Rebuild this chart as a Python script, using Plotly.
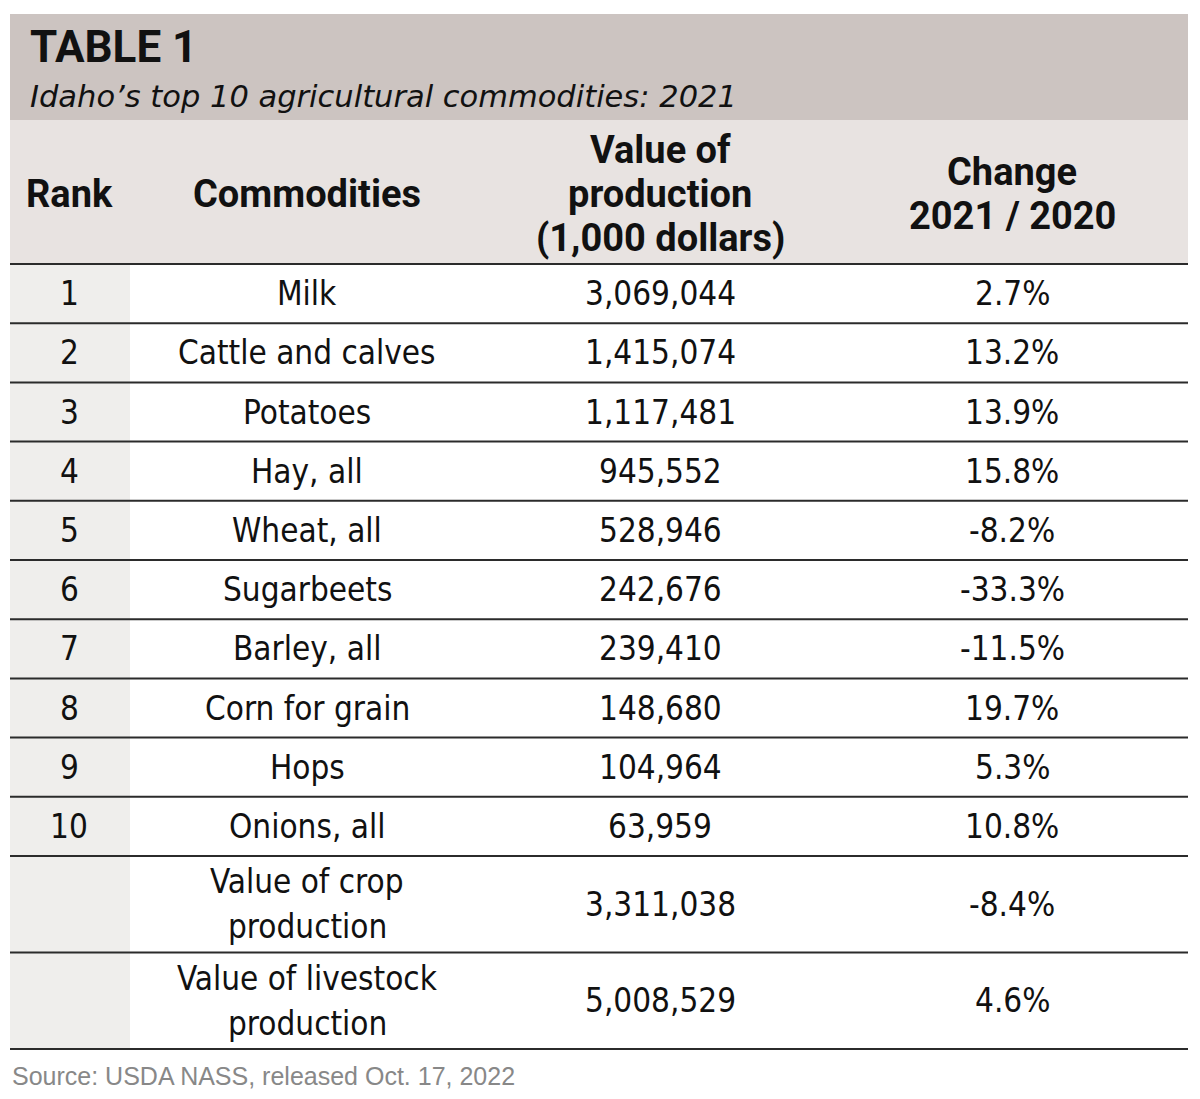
import plotly.graph_objects as go

ranks = ["1", "2", "3", "4", "5", "6", "7", "8", "9", "10", "", ""]
commodities = ["Milk", "Cattle and calves", "Potatoes", "Hay, all", "Wheat, all",
               "Sugarbeets", "Barley, all", "Corn for grain", "Hops", "Onions, all",
               "Value of crop|production", "Value of livestock|production"]
values = [3069044, 1415074, 1117481, 945552, 528946, 242676, 239410, 148680,
          104964, 63959, 3311038, 5008529]
changes = [2.7, 13.2, 13.9, 15.8, -8.2, -33.3, -11.5, 19.7, 5.3, 10.8, -8.4, 4.6]
headers = ["Rank", "Commodities", "Value of|production|(1,000 dollars)",
           "Change|2021 / 2020"]
title_text = "TABLE 1"
subtitle_text = "Idaho\u2019s top 10 agricultural commodities: 2021"
source_text = "Source: USDA NASS, released Oct. 17, 2022"

W, H = 1200, 1099
left, right = 10, 1188
title_top, title_bot = 14, 120
head_bot = 264
row_h = [59.2] * 10 + [96.5, 96.5]
rank_col_right = 130
col_centers = [69, 307, 660, 1012]

body_font = "DejaVu Sans Condensed, Roboto"
head_font = "Roboto"

fig = go.Figure()
shapes = []
ann = []

shapes.append(dict(type="rect", x0=left, x1=right, y0=title_top, y1=title_bot,
                   fillcolor="#ccc4c1", line=dict(width=0), layer="below"))
shapes.append(dict(type="rect", x0=left, x1=right, y0=title_bot, y1=head_bot,
                   fillcolor="#e8e3e1", line=dict(width=0), layer="below"))

y = head_bot
bounds = [y]
for h in row_h:
    y += h
    bounds.append(y)
table_bot = bounds[-1]
shapes.append(dict(type="rect", x0=left, x1=rank_col_right, y0=head_bot, y1=table_bot,
                   fillcolor="#efeeec", line=dict(width=0), layer="below"))
for b in bounds:
    shapes.append(dict(type="line", x0=left, x1=right, y0=b, y1=b,
                       line=dict(color="#2b2b2b", width=2)))


def add_lines(cx, ymid, text, spacing, font, bold=False):
    parts = text.split("|")
    n = len(parts)
    for k, p in enumerate(parts):
        yy = ymid + (k - (n - 1) / 2) * spacing
        t = "<b>" + p + "</b>" if bold else p
        ann.append(dict(x=cx, y=yy, text=t, xanchor="center", yanchor="middle",
                        showarrow=False, font=font))


ann.append(dict(x=28, y=47, text="<b>" + title_text + "</b>", xanchor="left", yanchor="middle",
                showarrow=False, font=dict(family=head_font, size=44, color="#111111")))
ann.append(dict(x=28, y=96, text="<i>" + subtitle_text + "</i>", xanchor="left", yanchor="middle",
                showarrow=False, font=dict(family="DejaVu Sans", size=30.5, color="#111111")))

head_mid = (title_bot + head_bot) / 2 + 2
hfont = dict(family=head_font, size=38, color="#111111")
for cx, htxt in zip(col_centers, headers):
    add_lines(cx, head_mid, htxt, 44, hfont, bold=True)

bfont = dict(family=body_font, size=33, color="#111111")
for i in range(len(commodities)):
    ym = (bounds[i] + bounds[i + 1]) / 2
    cells = [ranks[i], commodities[i], f"{values[i]:,}", f"{changes[i]:.1f}%"]
    for cx, t in zip(col_centers, cells):
        if t == "":
            continue
        add_lines(cx, ym, t, 45, bfont)

ann.append(dict(x=10, y=1076, text=source_text, xanchor="left", yanchor="middle",
                showarrow=False, font=dict(family="Liberation Sans", size=25, color="#888888")))

fig.update_layout(
    width=W, height=H, margin=dict(l=0, r=0, t=0, b=0),
    paper_bgcolor="white", plot_bgcolor="white",
    xaxis=dict(range=[0, W], visible=False, fixedrange=True),
    yaxis=dict(range=[H, 0], visible=False, fixedrange=True),
    shapes=shapes, annotations=ann, showlegend=False,
)
fig.write_html("out.html", config={"displayModeBar": False},
               post_script="document.body.style.margin='0px';")
